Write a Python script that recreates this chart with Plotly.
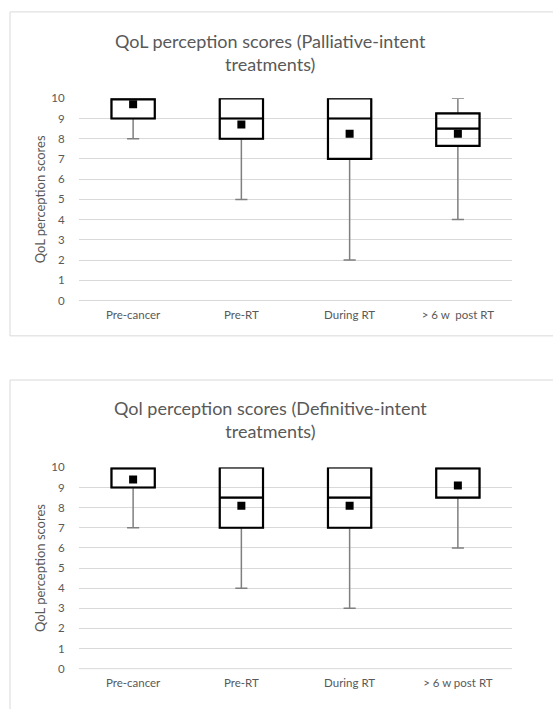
import plotly.graph_objects as go

W, H = 553, 709

categories = ["Pre-cancer", "Pre-RT", "During RT", "> 6 w  post RT"]
categories_def = ["Pre-cancer", "Pre-RT", "During RT", "> 6 w post RT"]

# Palliative-intent
pal_min = [8, 5, 2, 4]
pal_q1 = [9, 8, 7, 7.65]
pal_med = [10, 9, 9, 8.5]
pal_q3 = [10, 10, 10, 9.25]
pal_max = [10, 10, 10, 10]
pal_mean = [9.7, 8.7, 8.25, 8.25]

# Definitive-intent
def_min = [7, 4, 3, 6]
def_q1 = [9, 7, 7, 8.5]
def_med = [10, 8.5, 8.5, 10]
def_q3 = [10, 10, 10, 10]
def_max = [10, 10, 10, 10]
def_mean = [9.4, 8.1, 8.1, 9.1]

title_top = "QoL perception scores (Palliative-intent<br>treatments)"
title_bot = "Qol perception scores (Definitive-intent<br>treatments)"
ytitle = "QoL perception scores"

FONT = "Lato"
TXT = "#595959"
GRID = "#d9d9d9"

fig = go.Figure()


def add_panel(cats, mn, q1, med, q3, mx, mean, xa, ya):
    fig.add_trace(go.Box(
        x=cats, q1=q1, median=med, q3=q3, lowerfence=mn, upperfence=mx,
        width=0.4, whiskerwidth=0.28,
        line=dict(color="#7f7f7f", width=1.5), fillcolor="rgba(0,0,0,0)",
        xaxis=xa, yaxis=ya, showlegend=False, hoverinfo="skip",
    ))
    fig.add_trace(go.Box(
        x=cats, q1=q1, median=med, q3=q3, lowerfence=q1, upperfence=q3,
        width=0.4, whiskerwidth=0,
        line=dict(color="#000000", width=2.2), fillcolor="rgba(0,0,0,0)",
        xaxis=xa, yaxis=ya, showlegend=False, hoverinfo="skip",
    ))
    fig.add_trace(go.Scatter(
        x=cats, y=mean, mode="markers",
        marker=dict(symbol="square", size=8, color="#000000"),
        xaxis=xa, yaxis=ya, showlegend=False, hoverinfo="skip",
    ))


add_panel(categories, pal_min, pal_q1, pal_med, pal_q3, pal_max, pal_mean, "x", "y")
add_panel(categories_def, def_min, def_q1, def_med, def_q3, def_max, def_mean, "x2", "y2")

xdom = [79 / W, 512 / W]


def ydom(top_px, bot_px):
    return [1 - bot_px / H, 1 - top_px / H]


xcommon = dict(
    domain=xdom, range=[-0.5, 3.5], showgrid=False, zeroline=False,
    showline=False, ticks="outside", ticklen=4, tickcolor="rgba(0,0,0,0)",
    tickfont=dict(family=FONT, size=11.5, color=TXT), fixedrange=True,
)
ycommon = dict(
    range=[0, 10], dtick=1, showgrid=True, gridcolor=GRID, gridwidth=1,
    zeroline=False, showline=False, ticks="outside", ticklen=11,
    tickcolor="rgba(0,0,0,0)",
    tickfont=dict(family=FONT, size=11.5, color=TXT),
    title=dict(text=ytitle, font=dict(family=FONT, size=13, color=TXT), standoff=2),
    fixedrange=True,
)

fig.update_layout(
    width=W, height=H,
    margin=dict(l=0, r=0, t=0, b=0),
    paper_bgcolor="white", plot_bgcolor="white",
    boxmode="overlay",
    xaxis=dict(**xcommon, anchor="y"),
    yaxis=dict(**ycommon, domain=ydom(93, 299), anchor="x"),
    xaxis2=dict(**xcommon, anchor="y2", categoryorder="array", categoryarray=categories_def),
    yaxis2=dict(**ycommon, domain=ydom(469, 674), anchor="x2"),
    shapes=[
        dict(type="rect", xref="paper", yref="paper",
             x0=10 / W, x1=1.05, y0=1 - 335 / H, y1=1 - 5 / H,
             line=dict(color=GRID, width=1), layer="below"),
        dict(type="rect", xref="paper", yref="paper",
             x0=10 / W, x1=1.05, y0=-0.05, y1=1 - 380 / H,
             line=dict(color=GRID, width=1), layer="below"),
        dict(type="line", xref="paper", yref="paper", x0=xdom[0], x1=xdom[1],
             y0=1 - 299 / H, y1=1 - 299 / H, line=dict(color=GRID, width=1)),
        dict(type="line", xref="paper", yref="paper", x0=xdom[0], x1=xdom[1],
             y0=1 - 674 / H, y1=1 - 674 / H, line=dict(color=GRID, width=1)),
    ],
    annotations=[
        dict(text=title_top, xref="paper", yref="paper", x=270 / W, y=1 - 46 / H,
             xanchor="center", yanchor="middle", showarrow=False,
             font=dict(family=FONT, size=18, color=TXT)),
        dict(text=title_bot, xref="paper", yref="paper", x=270 / W, y=1 - 420 / H,
             xanchor="center", yanchor="middle", showarrow=False,
             font=dict(family=FONT, size=18, color=TXT)),
    ],
)

fig.write_html(
    "out.html",
    config={"displayModeBar": False},
    post_script="document.body.style.margin='0';document.body.style.overflow='hidden';",
)
